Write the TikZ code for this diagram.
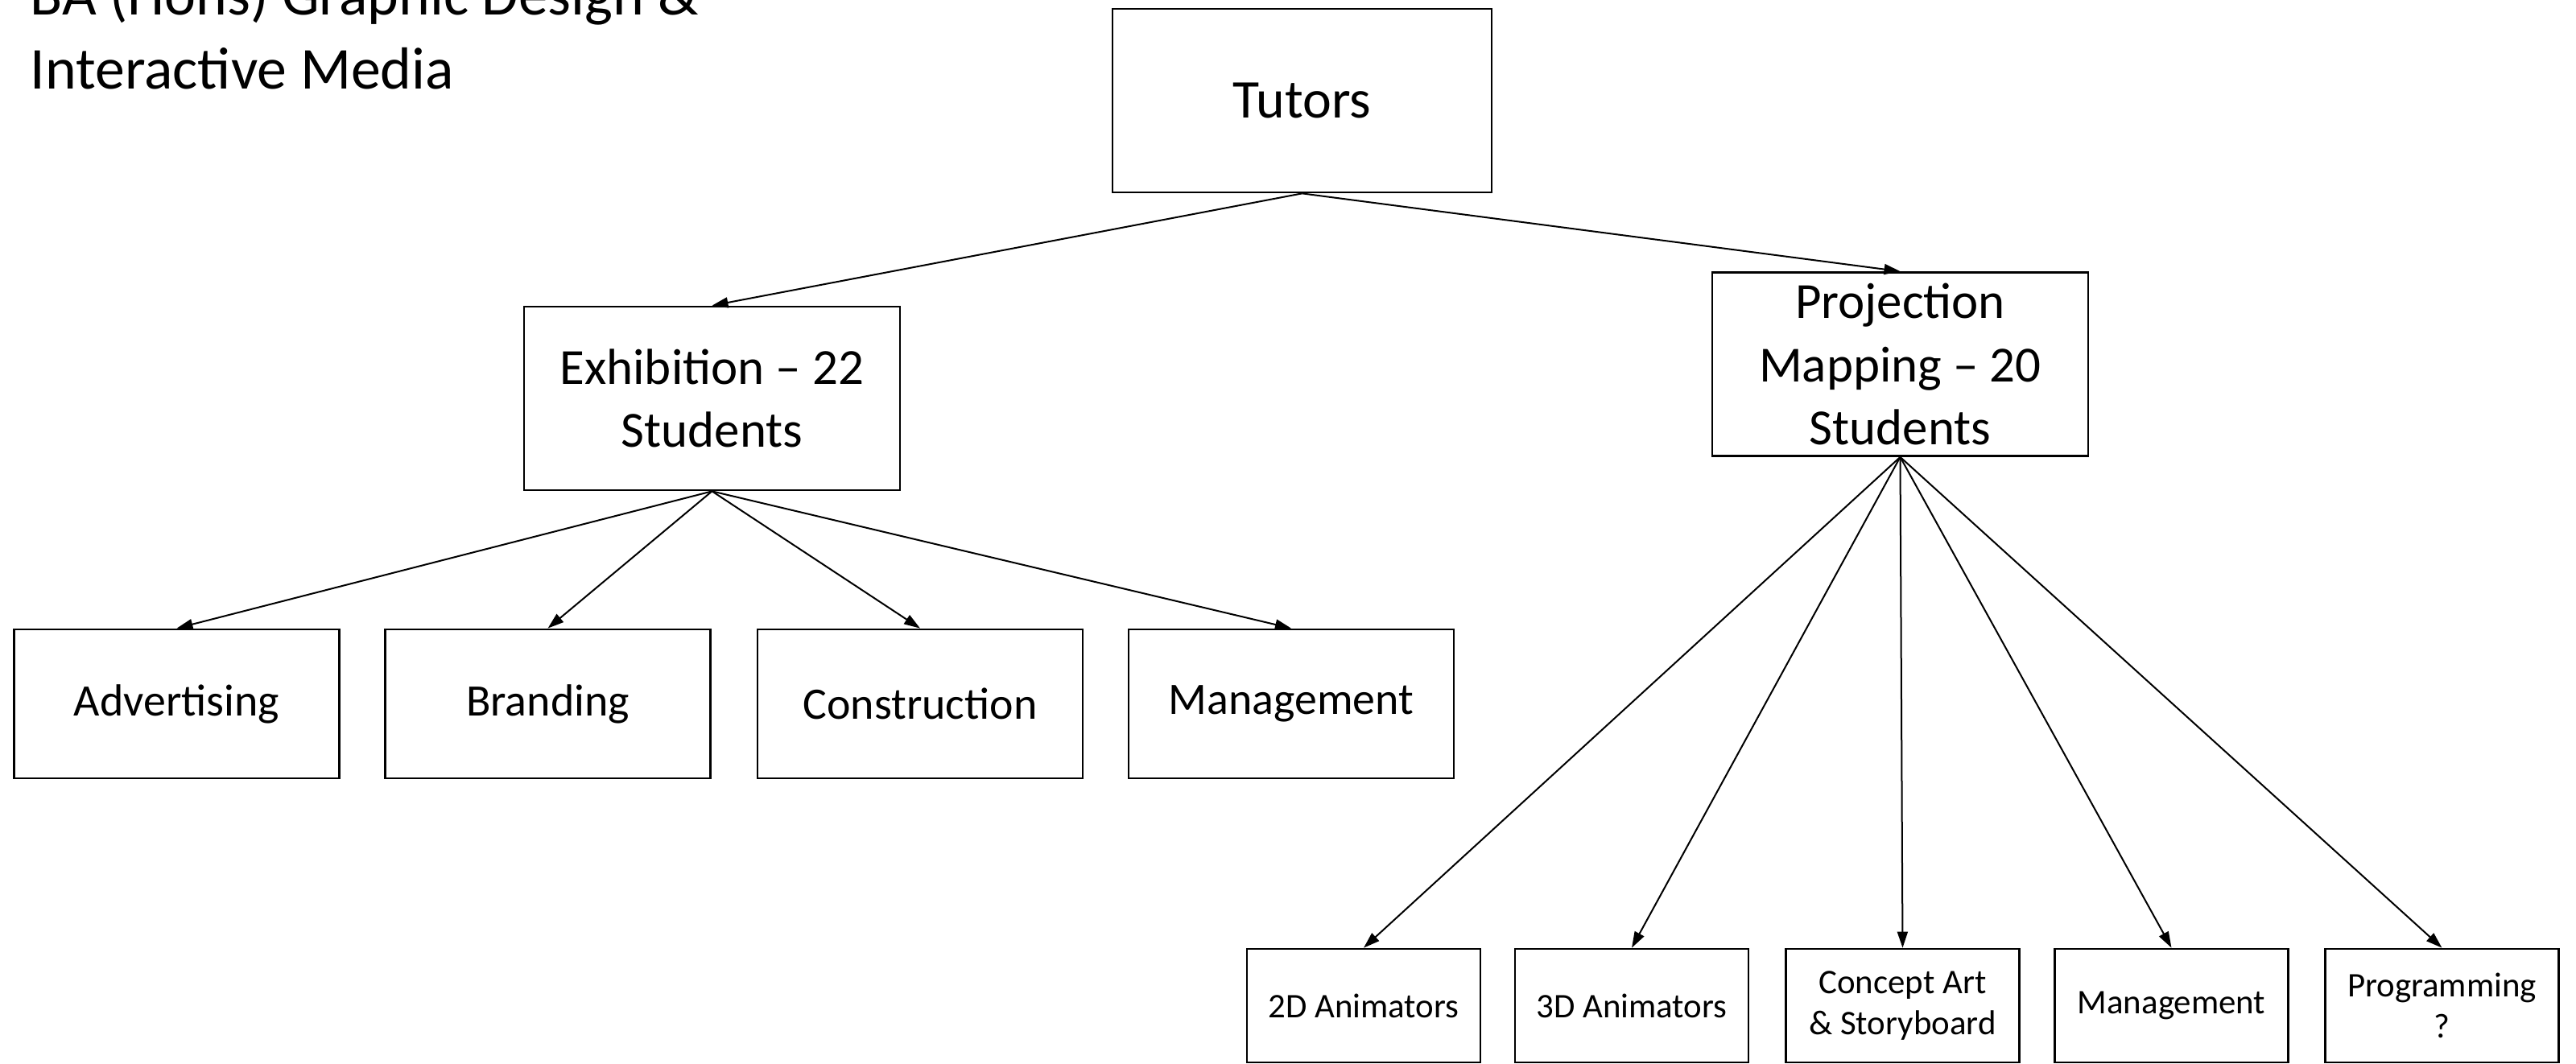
\documentclass[tikz,border=0pt]{standalone}
\usepackage{fontspec}
\setmainfont{Carlito}
\usetikzlibrary{arrows.meta}
\newcommand{\boxcolor}{black}
\newcommand{\linkwidth}{0.2mm}
\newcommand{\lowrow}{-8.745}
\newcommand{\baserow}{-12.495}

\begin{document}
\begin{tikzpicture}[
  box/.style={draw=\boxcolor, fill=white, line width=.27mm, inner sep=0pt, align=center},
  topbox/.style={box, minimum width=4.71cm, minimum height=2.28cm, font=\fontsize{19.3}{23.5}\selectfont},
  groupbox/.style={box, minimum width=4.67cm, minimum height=2.28cm, font=\fontsize{17.9}{22.4}\selectfont},
  rolebox/.style={box, minimum width=4.04cm, minimum height=1.85cm, font=\fontsize{15.9}{19.4}\selectfont},
  taskbox/.style={box, minimum width=2.9cm, minimum height=1.41cm, font=\fontsize{12.2}{14.4}\selectfont},
  link/.style={->, line width=\linkwidth},
  >={Triangle[length=2mm,width=1.3mm]}
]

\useasboundingbox (0,0) rectangle (32,-13.22);

\node[anchor=base west, align=left, inner sep=0pt, font=\fontsize{21}{26.1}\selectfont] (title) at (0.37,-1.10) {BA (Hons) Graphic Design \&\\Interactive Media};

\node[topbox] (tutors) at (16.175,-1.25) {Tutors};

\node[groupbox] (exhib) at (8.845,-4.95) {Exhibition -- 22\\Students};
\node[groupbox] (proj) at (23.605,-4.525) {Projection\\Mapping -- 20\\Students};

\draw[link] (tutors.south) -- (exhib.north);
\draw[link] (tutors.south) -- (proj.north);

% exhibition roles
\node[rolebox] (advert) at (2.195,\lowrow) {Advertising};
\node[rolebox] (brand) at (6.805,\lowrow) {Branding};
\node[rolebox] (constr) at (11.43,\lowrow) {Construction};
\node[rolebox] (exmanage) at (16.04,\lowrow) {Management};

\foreach \n in {advert,brand,constr,exmanage}
  \draw[link] (exhib.south) -- (\n.north);

% projection mapping roles
\node[taskbox] (anim2d) at (16.94,\baserow) {2D Animators};
\node[taskbox] (anim3d) at (20.27,\baserow) {3D Animators};
\node[taskbox] (concept) at (23.635,\baserow) {Concept Art\\\& Storyboard};
\node[taskbox] (prmanage) at (26.975,\baserow) {Management};
\node[taskbox] (program) at (30.335,\baserow) {Programming\\?};

\foreach \n in {anim2d,anim3d,concept,prmanage,program}
  \draw[link] (proj.south) -- (\n.north);

\end{tikzpicture}
\end{document}
